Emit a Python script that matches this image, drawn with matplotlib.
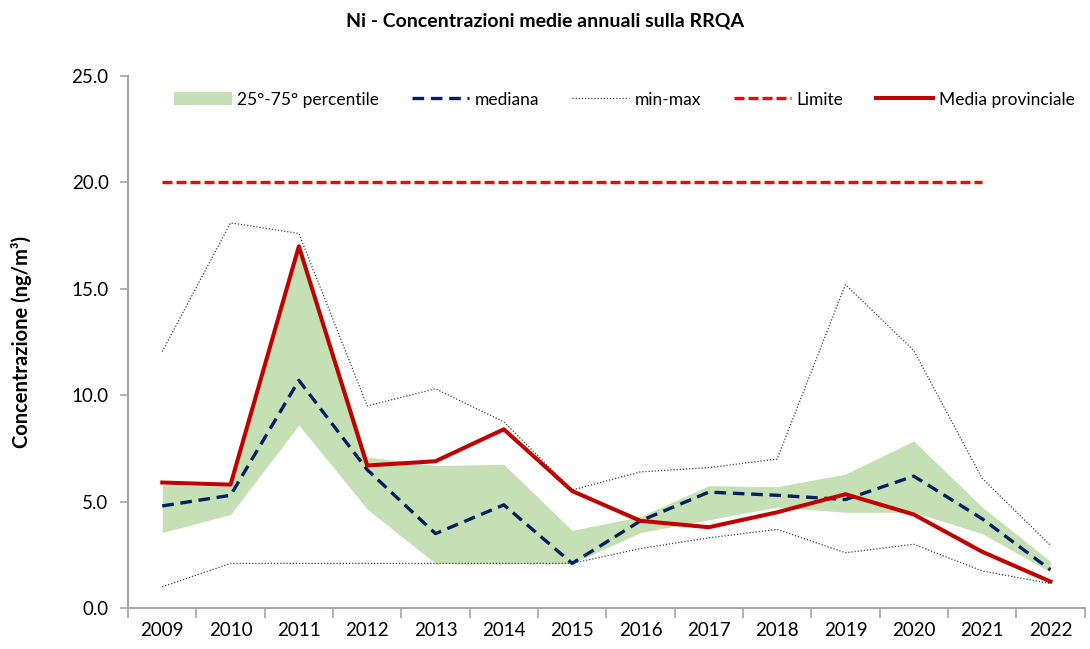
import numpy as np
import matplotlib.pyplot as plt

plt.rcParams['font.family'] = ['Lato', 'DejaVu Sans']

anni = ['2009', '2010', '2011', '2012', '2013', '2014', '2015',
        '2016', '2017', '2018', '2019', '2020', '2021', '2022']
p25 = [3.55, 4.4, 8.6, 4.65, 2.1, 2.1, 2.1, 3.55, 4.15, 4.75, 4.5, 4.5, 3.5, 1.7]
p75 = [5.8, 5.7, 16.9, 7.1, 6.7, 6.75, 3.65, 4.3, 5.75, 5.7, 6.3, 7.85, 4.75, 2.2]
mediana = [4.8, 5.3, 10.7, 6.5, 3.5, 4.85, 2.1, 4.1, 5.45, 5.3, 5.1, 6.2, 4.2, 1.8]
minimo = [1.0, 2.1, 2.1, 2.1, 2.1, 2.1, 2.1, 2.8, 3.3, 3.7, 2.6, 3.0, 1.75, 1.15]
massimo = [12.05, 18.1, 17.6, 9.5, 10.3, 8.75, 5.55, 6.4, 6.6, 7.0, 15.2, 12.1, 6.1, 2.95]
media_prov = [5.9, 5.8, 17.0, 6.7, 6.9, 8.4, 5.5, 4.1, 3.8, 4.5, 5.35, 4.4, 2.65, 1.25]
limite = [20.0] * 13  # 2009-2021

x = np.arange(len(anni))

fig, ax = plt.subplots(figsize=(10.9, 6.49), dpi=100)
fig.subplots_adjust(left=0.1175, right=0.995, bottom=0.063, top=0.883)

band = ax.fill_between(x, p25, p75, color='#c5e0b4', linewidth=0, zorder=1)
med, = ax.plot(x, mediana, color='#002060', linestyle=(0, (3.5, 2)), linewidth=2.4, zorder=3)
ax.plot(x, minimo, color='#404040', linestyle=(0, (1, 1.5)), linewidth=0.9, zorder=2)
mm, = ax.plot(x, massimo, color='#404040', linestyle=(0, (1, 1.5)), linewidth=0.9, zorder=2)
lim, = ax.plot(x[:len(limite)], limite, color='#ff0000', linestyle=(0, (3, 1.2)), linewidth=2.4, zorder=3)
mp, = ax.plot(x, media_prov, color='#c00000', linewidth=2.9, zorder=4)

ax.set_xlim(-0.5, len(anni) - 0.5)
ax.set_ylim(0, 25)
ax.set_yticks(np.arange(0, 25.1, 5))
ax.set_yticklabels(['%.1f' % v for v in np.arange(0, 25.1, 5)])
ax.set_xticks(x)
ax.set_xticklabels(anni)
ax.set_xticks(np.arange(-0.5, len(anni)), minor=True)
ax.tick_params(axis='x', which='major', length=0, pad=10, labelsize=13.5)
ax.tick_params(axis='x', which='minor', length=7, width=1.2, color='#a6a6a6')
ax.tick_params(axis='y', length=6, width=1.2, color='#a6a6a6', labelsize=13.5, pad=8)

for s in ['top', 'right']:
    ax.spines[s].set_visible(False)
for s in ['left', 'bottom']:
    ax.spines[s].set_color('#a6a6a6')
    ax.spines[s].set_linewidth(1.5)

ax.set_ylabel('Concentrazione (ng/m³)', fontsize=14.5, fontweight='bold', labelpad=28)
fig.suptitle('Ni - Concentrazioni medie annuali sulla RRQA', fontsize=14,
             fontweight='bold', y=0.98)

ax.legend([band, med, mm, lim, mp],
          ['25°-75° percentile', 'mediana', 'min-max', 'Limite', 'Media provinciale'],
          loc='upper center', bbox_to_anchor=(0.519, 1.0), ncol=5, frameon=False,
          fontsize=12.5, handlelength=3.3, handletextpad=0.3, columnspacing=1.9)

fig.savefig('out.png', dpi=100)
